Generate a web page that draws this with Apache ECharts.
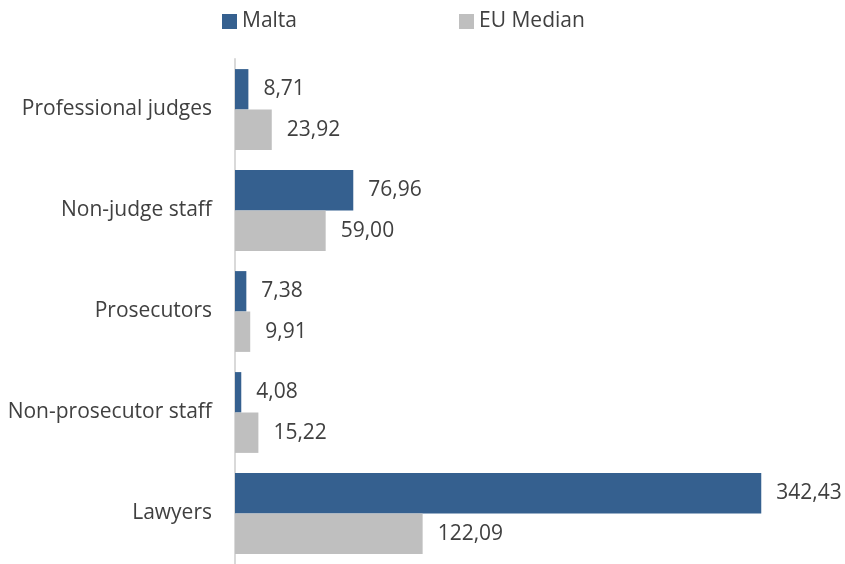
<!DOCTYPE html>
<html>
<head>
<meta charset="utf-8">
<script src="https://cdn.jsdelivr.net/npm/echarts@6/dist/echarts.min.js"></script>
<style>
  html, body { margin: 0; padding: 0; background: #fff; }
  #chart { width: 845px; height: 564px; }
</style>
</head>
<body>
<div id="chart"></div>
<script>
// 类别与数值
var categories = ['Professional judges', 'Non-judge staff', 'Prosecutors', 'Non-prosecutor staff', 'Lawyers'];
var maltaValues = [8.71, 76.96, 7.38, 4.08, 342.43];
var euMedianValues = [23.92, 59.00, 9.91, 15.22, 122.09];

var textColor = '#404040';
var font = 'Open Sans';

function fmt(p) {
    return p.value.toFixed(2).replace('.', ',');
}

var chart = echarts.init(document.getElementById('chart'));

chart.setOption({
    animation: false,
    legend: {
        top: 11,
        left: 222,
        padding: 0,
        itemWidth: 15,
        itemHeight: 15,
        itemGap: 162,
        icon: 'rect',
        textStyle: { fontFamily: font, fontSize: 21, color: textColor },
        data: ['Malta', 'EU Median']
    },
    grid: {
        left: 235,
        top: 59,
        width: 584,
        height: 510
    },
    xAxis: {
        type: 'value',
        min: 0,
        max: 380,
        show: false
    },
    yAxis: {
        type: 'category',
        inverse: true,
        data: categories,
        axisLine: { show: true, lineStyle: { color: '#d9d9d9', width: 2 } },
        axisTick: { show: false },
        axisLabel: { margin: 23, fontFamily: font, fontSize: 21, color: textColor }
    },
    series: [
        {
            name: 'Malta',
            type: 'bar',
            data: maltaValues,
            barGap: 0,
            barCategoryGap: '20%',
            itemStyle: { color: '#35608F' },
            label: { show: true, position: 'right', distance: 15, formatter: fmt, fontFamily: font, fontSize: 21, color: textColor }
        },
        {
            name: 'EU Median',
            type: 'bar',
            data: euMedianValues,
            barGap: 0,
            barCategoryGap: '20%',
            itemStyle: { color: '#BFBFBF' },
            label: { show: true, position: 'right', distance: 15, formatter: fmt, fontFamily: font, fontSize: 21, color: textColor }
        }
    ]
});
</script>
</body>
</html>
